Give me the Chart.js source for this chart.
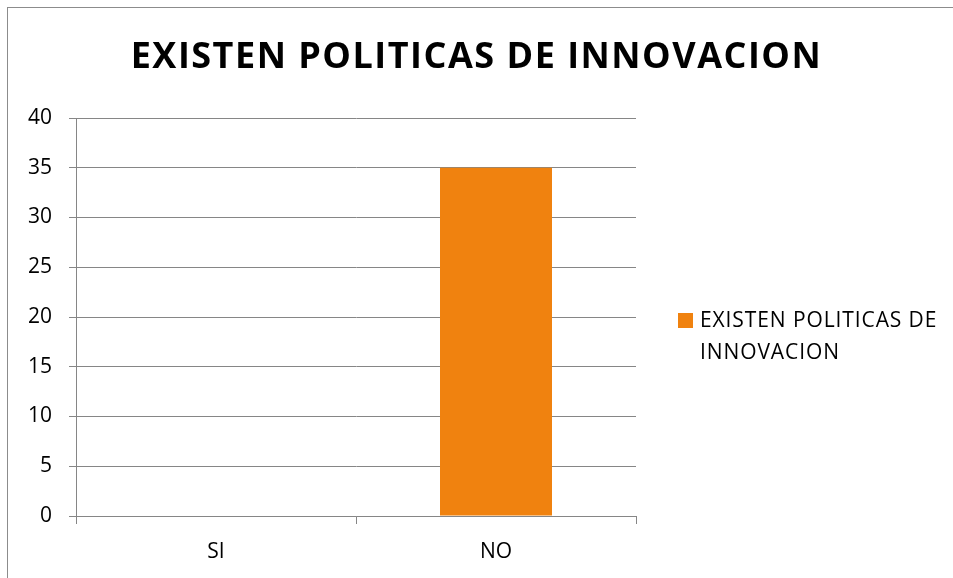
<!DOCTYPE html>
<html>
<head>
<meta charset="utf-8">
<script src="https://cdn.jsdelivr.net/npm/chart.js@4"></script>
<style>
  html, body { margin: 0; padding: 0; background: #fff; overflow: hidden; }
  #frame { position: absolute; left: 7px; top: 7px; width: 1000px; height: 1000px; border: 1px solid #8c8c8c; }
  #wrap { position: absolute; left: 0; top: 0; width: 953px; height: 578px; }
  #title { position: absolute; left: 0; width: 953px; top: 37px; text-align: center; font-family: "Open Sans", sans-serif; font-weight: bold; font-size: 36px; line-height: 1; letter-spacing: 1.5px; color: #000; white-space: nowrap; }
  #legend { position: absolute; left: 678px; top: 303px; font-family: "Open Sans", sans-serif; font-size: 21px; line-height: 32px; color: #000; }
  #legend .box { position: absolute; left: 0; top: 10px; width: 15px; height: 15px; background: #f0820f; }
  #legend .txt { position: absolute; left: 22px; top: 0; white-space: nowrap; letter-spacing: 0.9px; }
</style>
</head>
<body>
<div id="frame"></div>
<div id="wrap"><canvas id="myChart"></canvas></div>
<div id="title"></div>
<div id="legend"><div class="box"></div><div class="txt">EXISTEN POLITICAS DE<br>INNOVACION</div></div>
<script>
const categories = ['SI', 'NO'];
const values = [0, 35];
const seriesName = 'EXISTEN POLITICAS DE INNOVACION';
const chartTitle = 'EXISTEN POLITICAS DE INNOVACION';
const yMin = 0, yMax = 40, yStep = 5;

const gridGray = '#868686';
const tickFont = { family: '"Open Sans", sans-serif', size: 21 };

document.getElementById('title').textContent = chartTitle;

const ctx = document.getElementById('myChart').getContext('2d');
new Chart(ctx, {
    type: 'bar',
    data: {
        labels: categories,
        datasets: [{
            label: seriesName,
            data: values,
            backgroundColor: '#f0820f',
            categoryPercentage: 1,
            barPercentage: 0.4
        }]
    },
    options: {
        responsive: true,
        maintainAspectRatio: false,
        animation: false,
        layout: { padding: { left: 0, right: 317, top: 118, bottom: 0 } },
        plugins: {
            legend: { display: false },
            tooltip: { enabled: false },
            title: { display: false }
        },
        scales: {
            x: {
                grid: { display: true, drawOnChartArea: false, drawTicks: true, tickLength: 8, color: gridGray, offset: true },
                border: { display: true, color: gridGray },
                ticks: { color: '#000', font: tickFont, padding: 15 },
                afterFit: s => { s.height = 62; }
            },
            y: {
                min: yMin,
                max: yMax,
                ticks: { stepSize: yStep, color: '#000', font: tickFont, padding: 17 },
                grid: { color: gridGray, tickLength: 7 },
                border: { display: true, color: gridGray },
                afterFit: s => { s.width = 76; }
            }
        }
    }
});
</script>
</body>
</html>
